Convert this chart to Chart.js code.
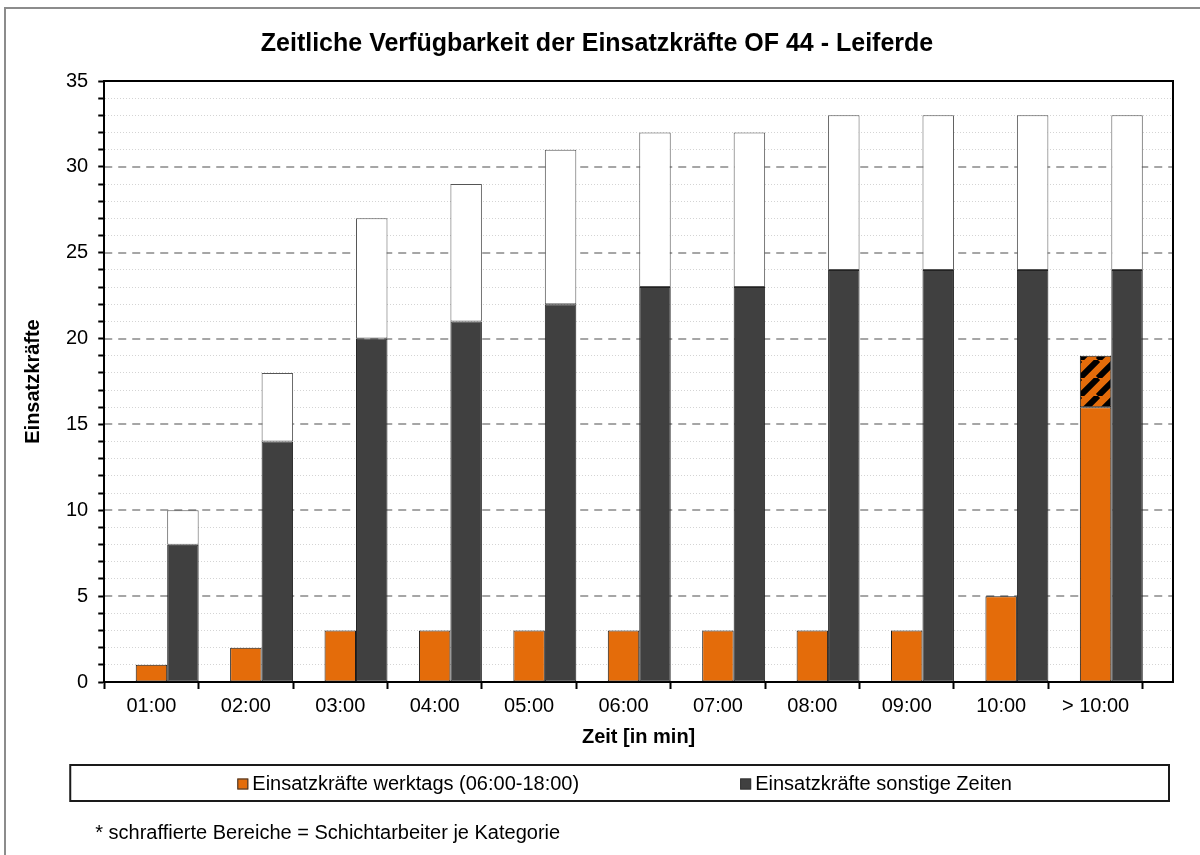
<!DOCTYPE html>
<html lang="de">
<head>
<meta charset="utf-8">
<title>Zeitliche Verfügbarkeit der Einsatzkräfte OF 44 - Leiferde</title>
<script src="https://cdn.jsdelivr.net/npm/chart.js@4/dist/chart.umd.min.js"></script>
<style>
  html, body { margin: 0; padding: 0; background: #fff; }
  canvas { display: block; }
</style>
</head>
<body>
<canvas id="chart" width="1200" height="855"></canvas>
<script>
// Zeit in Minuten (Kategorien der x-Achse)
const zeitLabels = ['01:00', '02:00', '03:00', '04:00', '05:00', '06:00', '07:00', '08:00', '09:00', '10:00', '> 10:00'];

// Einsatzkräfte werktags (06:00-18:00)
const werktags = [1, 2, 3, 3, 3, 3, 3, 3, 3, 5, 16];
// schraffierter Teil = Schichtarbeiter (werktags)
const werktagsSchicht = [0, 0, 0, 0, 0, 0, 0, 0, 0, 0, 3];

// Einsatzkräfte sonstige Zeiten
const sonstige = [8, 14, 20, 21, 22, 23, 23, 24, 24, 24, 24];
// weisser Teil oben auf den dunklen Balken
const sonstigeWeiss = [2, 4, 7, 8, 9, 9, 9, 9, 9, 9, 9];

const footnote = '* schraffierte Bereiche = Schichtarbeiter je Kategorie';

const ORANGE = '#E46C0A';
const DUNKEL = '#404040';

Chart.defaults.font.family = '"Liberation Sans", Arial, sans-serif';
Chart.defaults.font.size = 20;
Chart.defaults.color = '#000';

// schraffur fuer die Schichtarbeiter
function makeHatch(bg, fg) {
    const s = 18;
    const c = document.createElement('canvas');
    c.width = s;
    c.height = s;
    const g = c.getContext('2d');
    g.fillStyle = bg;
    g.fillRect(0, 0, s, s);
    g.strokeStyle = fg;
    g.lineWidth = 6;
    g.beginPath();
    for (let k = -1; k <= 1; k++) {
        g.moveTo(k * s, s);
        g.lineTo(k * s + s, 0);
    }
    g.stroke();
    return g.createPattern(c, 'repeat');
}

function toPoints(arr) {
    return arr.map(function (v, i) { return { x: i + 1, y: v }; });
}

// rahmen, legende und fussnote
const rahmenPlugin = {
    id: 'rahmen',
    beforeDraw(chart) {
        const ctx = chart.ctx;
        ctx.save();
        ctx.fillStyle = '#fff';
        ctx.fillRect(0, 0, chart.width, chart.height);
        ctx.strokeStyle = '#8c8c8c';
        ctx.lineWidth = 2;
        ctx.strokeRect(5, 8, chart.width + 10, chart.height + 10);
        ctx.restore();
    },
    afterDraw(chart) {
        const ctx = chart.ctx;
        const area = chart.chartArea;
        ctx.save();

        // obere linie der zeichenflaeche
        ctx.strokeStyle = '#000';
        ctx.lineWidth = 2;
        ctx.beginPath();
        ctx.moveTo(area.left, area.top);
        ctx.lineTo(area.right, area.top);
        ctx.stroke();

        // legende
        const boxLeft = area.left - 34;
        const boxRight = area.right - 4;
        const boxTop = chart.scales.x.bottom + 16;
        const boxH = 36;
        ctx.lineWidth = 2;
        ctx.strokeStyle = '#1a1a1a';
        ctx.strokeRect(boxLeft, boxTop, boxRight - boxLeft, boxH);

        const items = chart.data.datasets.filter(function (d) { return d.legende; });
        ctx.font = '20px "Liberation Sans", Arial, sans-serif';
        ctx.textBaseline = 'middle';
        const sq = 11;
        const gap = 161;
        const widths = items.map(function (d) { return sq + 4 + ctx.measureText(d.label).width; });
        const total = widths.reduce(function (a, b) { return a + b; }, 0) + gap * (items.length - 1);
        let x = (boxLeft + boxRight) / 2 + 5 - total / 2;
        const cy = boxTop + boxH / 2 + 1;
        items.forEach(function (d, i) {
            ctx.fillStyle = d.backgroundColor;
            ctx.fillRect(x, cy - sq / 2, sq, sq);
            ctx.lineWidth = 1;
            ctx.strokeStyle = '#333';
            ctx.strokeRect(x + 0.5, cy - sq / 2 + 0.5, sq - 1, sq - 1);
            ctx.fillStyle = '#000';
            ctx.fillText(d.label, x + sq + 4, cy);
            x += widths[i] + gap;
        });

        // fussnote
        ctx.fillText(footnote, boxLeft + 25, boxTop + 68);
        ctx.restore();
    }
};

const ctx = document.getElementById('chart').getContext('2d');

const chart = new Chart(ctx, {
    type: 'bar',
    data: {
        datasets: [
            {
                // leere gruppe links, damit die balken rechts in der kategorie stehen
                label: '',
                stack: 'leer',
                data: toPoints(werktags.map(function () { return 0; })),
                backgroundColor: 'rgba(0,0,0,0)',
                borderWidth: 0
            },
            {
                label: 'Einsatzkräfte werktags (06:00-18:00)',
                legende: true,
                stack: 'werktags',
                data: toPoints(werktags),
                backgroundColor: ORANGE,
                borderColor: '#1a1a1a',
                borderWidth: 1,
                borderSkipped: false
            },
            {
                label: 'Schichtarbeiter werktags',
                stack: 'werktags',
                data: toPoints(werktagsSchicht),
                backgroundColor: makeHatch(ORANGE, '#000'),
                borderColor: '#1a1a1a',
                borderWidth: function (c) { return c.raw && c.raw.y > 0 ? 1 : 0; },
                borderSkipped: false
            },
            {
                label: 'Einsatzkräfte sonstige Zeiten',
                legende: true,
                stack: 'sonstige',
                data: toPoints(sonstige),
                backgroundColor: DUNKEL,
                borderColor: '#222',
                borderWidth: 1,
                borderSkipped: false
            },
            {
                label: 'Einsatzkräfte sonstige Zeiten (weitere)',
                stack: 'sonstige',
                data: toPoints(sonstigeWeiss),
                backgroundColor: '#fff',
                borderColor: '#555',
                borderWidth: 1,
                borderSkipped: false
            }
        ]
    },
    options: {
        responsive: false,
        animation: false,
        devicePixelRatio: 1,
        // ticks liegen im halben abstand, daher 2 = eine ganze kategorie
        categoryPercentage: 2,
        barPercentage: 1,
        layout: {
            padding: { left: 21, right: 27, top: 0, bottom: 106 }
        },
        plugins: {
            legend: { display: false },
            tooltip: { enabled: false },
            title: {
                display: true,
                text: 'Zeitliche Verfügbarkeit der Einsatzkräfte OF 44 - Leiferde',
                font: { size: 25, weight: 'bold' },
                padding: { top: 29, bottom: 22 }
            }
        },
        scales: {
            x: {
                type: 'linear',
                stacked: true,
                offset: false,
                min: 0.5,
                max: 11.82,
                afterBuildTicks: function (scale) {
                    const t = [];
                    for (let i = 0; i <= zeitLabels.length * 2; i++) {
                        t.push({ value: 0.5 + i / 2 });
                    }
                    scale.ticks = t;
                },
                ticks: {
                    autoSkip: false,
                    maxRotation: 0,
                    padding: 5,
                    callback: function (v) {
                        return Number.isInteger(v) ? zeitLabels[v - 1] : '';
                    }
                },
                grid: {
                    offset: false,
                    drawOnChartArea: false,
                    tickLength: 7,
                    tickWidth: 2,
                    tickColor: function (c) {
                        return c.tick && Number.isInteger(c.tick.value) ? 'rgba(0,0,0,0)' : '#000';
                    }
                },
                border: { color: '#000', width: 2 },
                title: {
                    display: true,
                    text: 'Zeit [in min]',
                    font: { size: 20, weight: 'bold' },
                    padding: { top: 2, bottom: 0 }
                }
            },
            y: {
                stacked: true,
                min: 0,
                max: 35,
                ticks: {
                    stepSize: 1,
                    autoSkip: false,
                    padding: 10,
                    callback: function (v) { return v % 5 === 0 ? v : ''; }
                },
                grid: {
                    color: function (c) {
                        const v = c.tick ? c.tick.value : 0;
                        return (v % 5 === 0) ? 'rgba(0,0,0,0)' : '#d4d4d4';
                    },
                    lineWidth: 1,
                    tickLength: 6,
                    tickWidth: 2,
                    tickColor: '#000'
                },
                border: { color: '#000', width: 2, dash: [1, 2] },
                title: {
                    display: true,
                    text: 'Einsatzkräfte',
                    font: { size: 20, weight: 'bold' },
                    padding: { top: 0, bottom: 11 }
                }
            },
            y2: {
                position: 'right',
                min: 0,
                max: 35,
                ticks: { display: false, stepSize: 5 },
                grid: {
                    drawTicks: false,
                    color: function (c) {
                        const v = c.tick ? c.tick.value : 0;
                        return (v > 0 && v < 35) ? '#a6a6a6' : 'rgba(0,0,0,0)';
                    },
                    lineWidth: 2
                },
                border: { color: '#000', width: 2, dash: [8, 6] }
            }
        }
    },
    plugins: [rahmenPlugin]
});
</script>
</body>
</html>
